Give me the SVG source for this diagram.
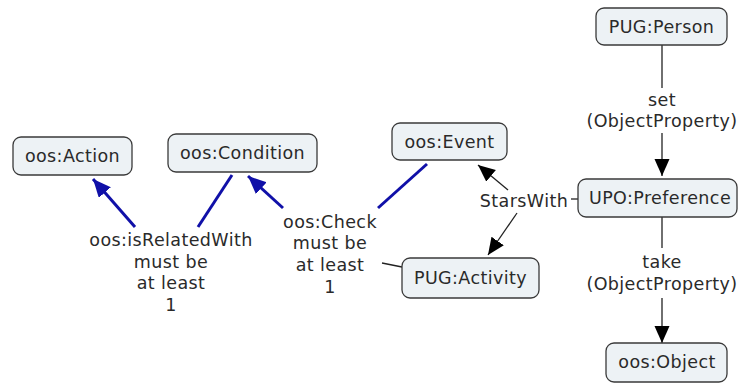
<svg xmlns="http://www.w3.org/2000/svg" width="739" height="385" viewBox="0 0 739 385">
  <defs>
    <marker id="arrowBlue" markerUnits="userSpaceOnUse" markerWidth="20" markerHeight="18" refX="18" refY="8" orient="auto">
      <path d="M0,0 L18,8 L0,16 Z" fill="#1010a8"/>
    </marker>
    <marker id="arrowBlack" markerUnits="userSpaceOnUse" markerWidth="19" markerHeight="17" refX="17" refY="7.5" orient="auto">
      <path d="M0,0 L17,7.5 L0,15 Z" fill="#000"/>
    </marker>
  </defs>
  <style>
    .box { fill: #edf2f5; stroke: #3a3a3a; stroke-width: 1.3; }
    .lbl { font-family: "DejaVu Sans", Verdana, sans-serif; font-size: 17.5px; letter-spacing: 0.4px; fill: #2a2a2a; text-anchor: middle; }
    .blue { stroke: #1010a8; stroke-width: 3; fill: none; }
    .thin { stroke: #222; stroke-width: 1.3; fill: none; }
  </style>
  <rect width="739" height="385" fill="#fff"/>

  <g id="connectors">
    <line class="blue" x1="135" y1="227" x2="93" y2="179" marker-end="url(#arrowBlue)"/>
    <line class="blue" x1="198" y1="227" x2="232" y2="175"/>
    <line class="blue" x1="283" y1="208" x2="248" y2="176" marker-end="url(#arrowBlue)"/>
    <line class="blue" x1="378" y1="208" x2="427" y2="164"/>
    <line class="thin" x1="382" y1="263" x2="402" y2="267"/>
    <line class="thin" x1="508" y1="190" x2="478" y2="165" marker-end="url(#arrowBlack)"/>
    <line class="thin" x1="517" y1="213" x2="488" y2="255" marker-end="url(#arrowBlack)"/>
    <line class="thin" x1="571" y1="199" x2="578" y2="199"/>
    <line class="thin" x1="662" y1="45" x2="662" y2="88"/>
    <line class="thin" x1="662" y1="133" x2="662" y2="176" marker-end="url(#arrowBlack)"/>
    <line class="thin" x1="662" y1="217" x2="662" y2="248"/>
    <line class="thin" x1="662" y1="298" x2="662" y2="343" marker-end="url(#arrowBlack)"/>
  </g>

  <g id="linking-phrases">
    <text class="lbl" x="171" y="246">oos:isRelatedWith</text>
    <text class="lbl" x="171" y="268">must be</text>
    <text class="lbl" x="171" y="289">at least</text>
    <text class="lbl" x="171" y="311">1</text>
    <text class="lbl" x="330" y="228">oos:Check</text>
    <text class="lbl" x="330" y="249">must be</text>
    <text class="lbl" x="330" y="271">at least</text>
    <text class="lbl" x="330" y="293">1</text>
    <text class="lbl" x="524" y="207">StarsWith</text>
    <text class="lbl" x="662" y="106">set</text>
    <text class="lbl" x="662" y="127">(ObjectProperty)</text>
    <text class="lbl" x="662" y="268">take</text>
    <text class="lbl" x="662" y="290">(ObjectProperty)</text>
  </g>

  <g id="oos-action">
    <rect class="box" x="13" y="137" width="119" height="38" rx="8"/>
    <text class="lbl" x="72.5" y="162">oos:Action</text>
  </g>
  <g id="oos-condition">
    <rect class="box" x="168" y="134" width="149" height="38" rx="8"/>
    <text class="lbl" x="242.5" y="159">oos:Condition</text>
  </g>
  <g id="oos-event">
    <rect class="box" x="392" y="123" width="115" height="37" rx="8"/>
    <text class="lbl" x="449.5" y="148">oos:Event</text>
  </g>
  <g id="pug-activity">
    <rect class="box" x="402" y="258" width="137" height="40" rx="8"/>
    <text class="lbl" x="470.5" y="284">PUG:Activity</text>
  </g>
  <g id="pug-person">
    <rect class="box" x="596" y="8" width="131" height="37" rx="8"/>
    <text class="lbl" x="661.5" y="33">PUG:Person</text>
  </g>
  <g id="upo-preference">
    <rect class="box" x="578" y="179" width="159" height="38" rx="8"/>
    <text class="lbl" x="660" y="204">UPO:Preference</text>
  </g>
  <g id="oos-object">
    <rect class="box" x="606" y="343" width="121" height="39" rx="8"/>
    <text class="lbl" x="667" y="368">oos:Object</text>
  </g>
</svg>
